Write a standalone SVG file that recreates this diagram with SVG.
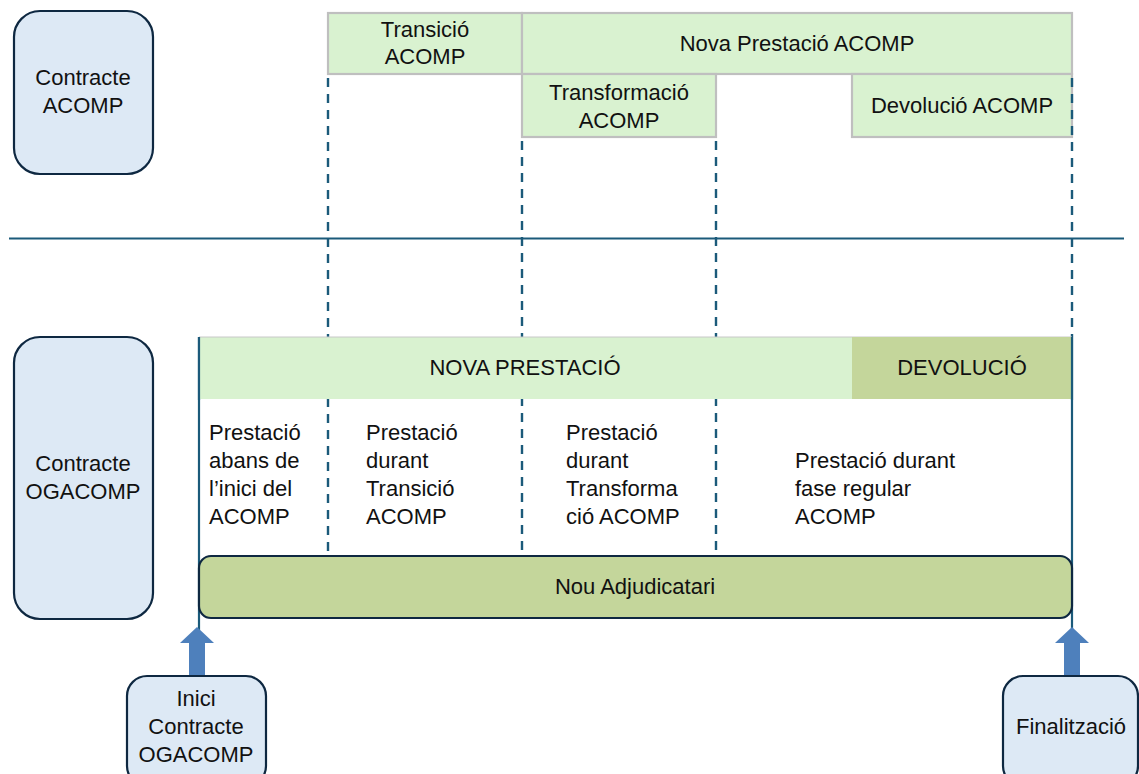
<svg xmlns="http://www.w3.org/2000/svg" width="1139" height="774" viewBox="0 0 1139 774">
  <style>
    text { font-family: "Liberation Sans", Arial, sans-serif; font-size: 22px; fill: #111111; }
    .mid { text-anchor: middle; }
    .contract { fill: #dde9f5; stroke: #0e2841; stroke-width: 2.2; }
    .phase { fill: #d9f2d0; stroke: #bfbfbf; stroke-width: 2.2; }
    .guide { stroke: #1b5a7a; stroke-width: 2.4; stroke-dasharray: 9 7; fill: none; }
    .axis { stroke: #1b5a7a; stroke-width: 2.2; fill: none; }
    .up { fill: #4e80bc; }
  </style>

  <!-- separator between the two contracts -->
  <line class="axis" x1="9" y1="238.5" x2="1124" y2="238.5" stroke-width="2.6"/>

  <g id="contracte-acomp">
    <rect class="contract" x="14" y="11" width="139" height="163" rx="26"/>
    <text class="mid" x="83" y="85">Contracte</text>
    <text class="mid" x="83" y="113">ACOMP</text>
  </g>

  <g id="transicio-acomp">
    <rect class="phase" x="328" y="13" width="194" height="61"/>
    <text class="mid" x="425" y="37">Transició</text>
    <text class="mid" x="425" y="64">ACOMP</text>
  </g>

  <g id="nova-prestacio-acomp">
    <rect class="phase" x="522" y="13" width="550" height="61"/>
    <text class="mid" x="797" y="51">Nova Prestació ACOMP</text>
  </g>

  <g id="transformacio-acomp">
    <rect class="phase" x="522" y="74" width="194" height="63"/>
    <text class="mid" x="619" y="100">Transformació</text>
    <text class="mid" x="619" y="128">ACOMP</text>
  </g>

  <g id="devolucio-acomp">
    <rect class="phase" x="852" y="74" width="220" height="63"/>
    <text class="mid" x="962" y="113">Devolució ACOMP</text>
  </g>

  <!-- dashed phase boundaries and solid start / end markers -->
  <g id="connectors">
    <line class="guide" x1="328" y1="78" x2="328" y2="553"/>
    <line class="guide" x1="522" y1="141" x2="522" y2="553"/>
    <line class="guide" x1="716" y1="141" x2="716" y2="553"/>
    <line class="guide" x1="1072" y1="78" x2="1072" y2="337"/>
    <line class="axis" x1="199" y1="337" x2="199" y2="630"/>
    <line class="axis" x1="1072" y1="337" x2="1072" y2="630"/>
    <polygon class="up" points="197,627 214,643 205,643 205,676 189,676 189,643 180,643"/>
    <polygon class="up" points="1072,627 1089,643 1080,643 1080,676 1064,676 1064,643 1055,643"/>
  </g>

  <g id="contracte-ogacomp">
    <rect class="contract" x="14" y="337" width="139" height="282" rx="26"/>
    <text class="mid" x="83" y="471">Contracte</text>
    <text class="mid" x="83" y="499">OGACOMP</text>
  </g>

  <g id="nova-prestacio">
    <rect x="199" y="337" width="653" height="62" fill="#d9f2d0"/>
    <line x1="199" y1="337" x2="1072" y2="337" stroke="#c8c8c8" stroke-width="1"/>
    <text class="mid" x="525" y="375">NOVA PRESTACIÓ</text>
  </g>

  <g id="devolucio">
    <rect x="852" y="337" width="220" height="62" fill="#c4d69b"/>
    <text class="mid" x="962" y="375">DEVOLUCIÓ</text>
  </g>

  <!-- solid start / end markers stay visible over the bands -->
  <line class="axis" x1="199" y1="337" x2="199" y2="400"/>
  <line class="axis" x1="1072" y1="337" x2="1072" y2="400"/>

  <g id="prestacio-abans">
    <text x="209" y="440">Prestació</text>
    <text x="209" y="468">abans de</text>
    <text x="209" y="496">l’inici del</text>
    <text x="209" y="524">ACOMP</text>
  </g>

  <g id="prestacio-transicio">
    <text x="366" y="440">Prestació</text>
    <text x="366" y="468">durant</text>
    <text x="366" y="496">Transició</text>
    <text x="366" y="524">ACOMP</text>
  </g>

  <g id="prestacio-transformacio">
    <text x="566" y="440">Prestació</text>
    <text x="566" y="468">durant</text>
    <text x="566" y="496">Transforma</text>
    <text x="566" y="524">ció ACOMP</text>
  </g>

  <g id="prestacio-regular">
    <text x="795" y="468">Prestació durant</text>
    <text x="795" y="496">fase regular</text>
    <text x="795" y="524">ACOMP</text>
  </g>

  <g id="nou-adjudicatari">
    <rect x="199" y="556" width="873" height="62" rx="12" fill="#c4d69b" stroke="#0e2841" stroke-width="2.2"/>
    <text class="mid" x="635" y="594">Nou Adjudicatari</text>
  </g>

  <g id="inici-contracte">
    <rect class="contract" x="127" y="676" width="139" height="110" rx="20"/>
    <text class="mid" x="196" y="706">Inici</text>
    <text class="mid" x="196" y="734">Contracte</text>
    <text class="mid" x="196" y="762">OGACOMP</text>
  </g>

  <g id="finalitzacio">
    <rect class="contract" x="1003" y="676" width="135" height="110" rx="20"/>
    <text class="mid" x="1071" y="734">Finalització</text>
  </g>
</svg>
